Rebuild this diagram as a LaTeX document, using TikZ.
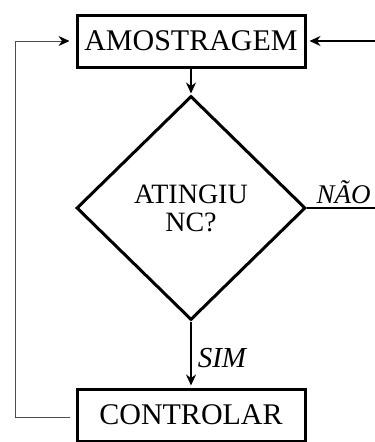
\documentclass[tikz,border=0pt]{standalone}
\usepackage{fontspec}
\setmainfont{Liberation Serif}
\usetikzlibrary{shapes.geometric,arrows.meta}
\begin{document}
\begin{tikzpicture}[x=1pt,y=-1pt,
  box/.style={draw,line width=3pt,minimum width=228pt,minimum height=52pt,inner sep=0pt,font=\fontsize{30}{32}\selectfont},
  dia/.style={draw,shape=diamond,line width=3pt,minimum width=229pt,minimum height=224pt,inner sep=0pt,align=center,font=\fontsize{28}{30}\selectfont},
  arr/.style={line width=1.6pt,-{Stealth[length=11pt,width=10pt]}},
  fbline/.style={line width=1pt,draw=black!70,-{Stealth[length=11pt,width=10pt,color=black,fill=black]}},
  lbl/.style={font=\fontsize{29}{30}\selectfont\itshape,inner sep=0pt}]
\useasboundingbox (0,0) rectangle (375,442);
\node[box] (amo) at (191,41) {AMOSTRAGEM};
\node[dia] (dec) at (191,208) {ATINGIU\\[-2pt]NC?};
\node[box] (ctl) at (191,415) {CONTROLAR};
\coordinate (rin) at (375,41);
\coordinate (rout) at (375,208);
\coordinate (l1) at (15,417);
\coordinate (l2) at (15,41);
\draw[arr,shorten >=3pt] (rin) -- (amo.east);
\draw[arr,shorten >=1pt] (amo.south) -- (dec.north);
\draw[arr,shorten >=2pt] (dec.south) -- node[lbl,right,xshift=6pt,yshift=-4pt]{SIM} (ctl.north);
\draw[line width=1.2pt] (dec.east) -- node[lbl,pos=0,anchor=south west,xshift=9pt,yshift=4pt,font=\fontsize{27}{30}\selectfont\itshape]{NÃO} (rout);
\draw[fbline,shorten >=6pt] ([xshift=-6pt]ctl.west |- l1) -- (l1) -- (l2) -- (amo.west);
\end{tikzpicture}
\end{document}
